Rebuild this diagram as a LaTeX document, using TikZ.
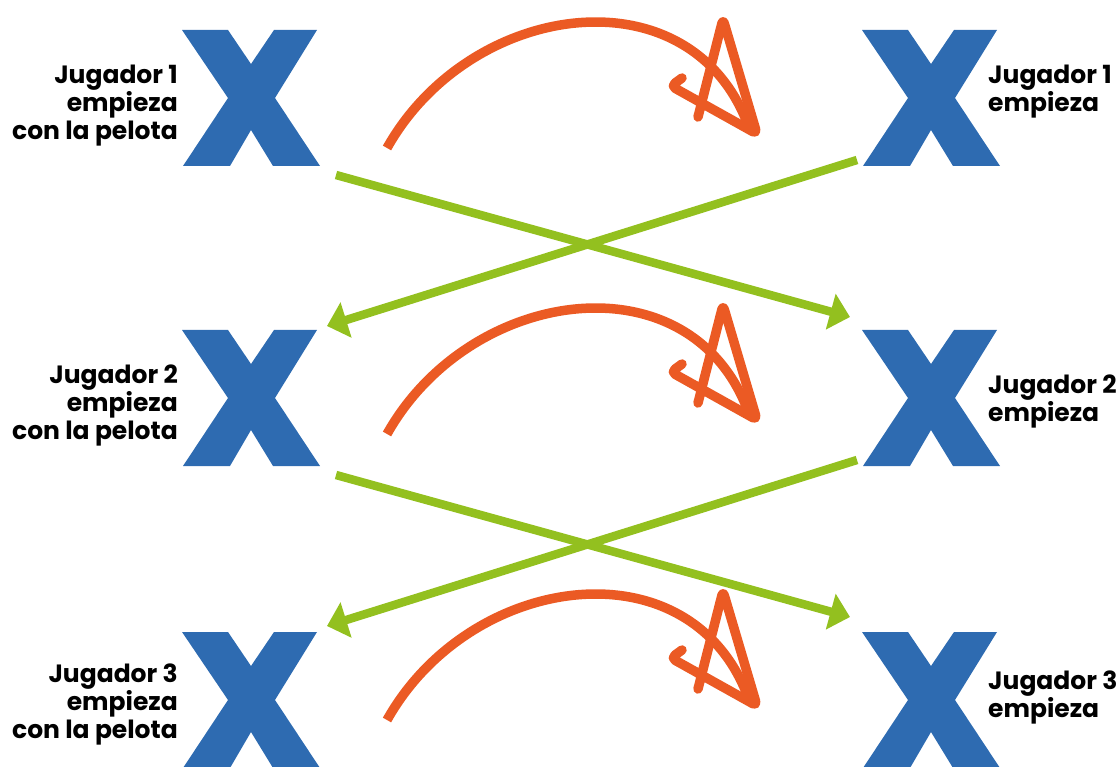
\documentclass[tikz,border=0pt]{standalone}
\usepackage{fontspec}
\setmainfont{Poppins}
\usetikzlibrary{arrows.meta}
\definecolor{xblue}{HTML}{2E6BB1}
\definecolor{pgreen}{HTML}{93C01F}
\definecolor{porange}{HTML}{EB5A24}
\tikzset{
  lbl/.style={inner sep=0pt, font=\fontsize{25}{28}\selectfont\bfseries},
  lbll/.style={lbl, anchor=base east, align=right},
  lblr/.style={lbl, anchor=base west, align=left},
  xbox/.style={inner sep=0pt, minimum width=138pt, minimum height=136pt, anchor=north west},
  passline/.style={draw=pgreen, line width=8.5pt, -{Triangle[length=20pt,width=36pt]}},
  arcline/.style={draw=porange, line width=9.5pt},
  scribble/.style={draw=porange, line width=9.5pt, line cap=round, line join=round, rounded corners=5pt},
  pics/playerx/.style={code={
    \fill[xblue] (0,0) -- (46,0) -- (69,34) -- (92,0) -- (135,0) -- (93,68)
      -- (138,136) -- (91,136) -- (69,100) -- (48,136) -- (1,136) -- (46,68) -- cycle;}}
}
\begin{document}
\begin{tikzpicture}[x=1pt,y=-1pt]
\useasboundingbox (0,0) rectangle (1120,767);
\clip (0,0) rectangle (1120,767);

% players
\foreach \n/\yy in {1/30,2/330,3/632}{
  \node[xbox] (L\n) at (182,\yy) {};
  \pic at (L\n.north west) {playerx};
  \node[xbox] (R\n) at (862,\yy) {};
  \pic at (R\n.north west) {playerx};
}

% passes between rows
\foreach \r/\dy in {1/0,2/300}{
  \begin{scope}[shift={(0,\dy)}]
    \coordinate (a\r s) at (336,175);
    \coordinate (a\r e) at (850,317);
    \coordinate (b\r s) at (857,160);
    \coordinate (b\r e) at (327,326);
    \draw[passline] (a\r s) -- (a\r e);
    \draw[passline] (b\r s) -- (b\r e);
  \end{scope}
}

% orange throws
\foreach \r/\dy in {1/0,2/286,3/572}{
  \begin{scope}[shift={(0,\dy)}]
    \coordinate (o\r s) at (387,148);
    \coordinate (o\r e) at (748,125);
    \draw[arcline] (o\r s) .. controls (470,0) and (690,-30) .. (o\r e);
    \coordinate (h\r a) at (682,78);
    \coordinate (h\r b) at (671,86);
    \coordinate (h\r c) at (757,134);
    \coordinate (h\r d) at (723,19);
    \coordinate (h\r e) at (698,117);
    \draw[scribble] (h\r a) -- (h\r b) -- (h\r c) -- (h\r d) -- (h\r e);
  \end{scope}
}

% labels (anchor = baseline of last line)
\node[lbll] (t1) at (178,140) {Jugador 1\\empieza\\con la pelota};
\node[lbll] (t2) at (178,439) {Jugador 2\\empieza\\con la pelota};
\node[lbll] (t3) at (178,738) {Jugador 3\\empieza\\con la pelota};
\node[lblr] (u1) at (988,112) {Jugador 1\\empieza};
\node[lblr] (u2) at (988,421) {Jugador 2\\empieza};
\node[lblr] (u3) at (988,717) {Jugador 3\\empieza};
\end{tikzpicture}
\end{document}
